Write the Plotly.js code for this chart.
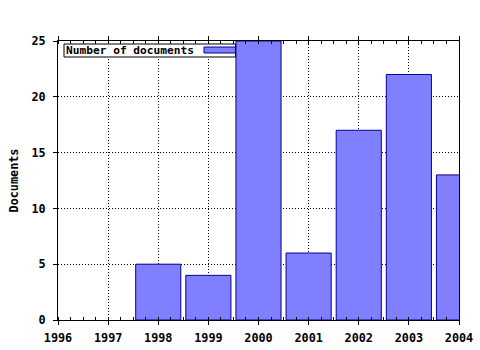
<!DOCTYPE html>
<html>
<head>
<meta charset="utf-8">
<script src="https://cdn.plot.ly/plotly-3.0.1.min.js"></script>
<style>html,body{margin:0;padding:0;background:#fff;}#chart{width:480px;height:350px;}</style>
</head>
<body>
<div id="chart"></div>
<script>
const years = [1998, 1999, 2000, 2001, 2002, 2003, 2004];
const documents = [5, 4, 25, 6, 17, 22, 13];
const xTickVals = [1996, 1997, 1998, 1999, 2000, 2001, 2002, 2003, 2004];
const yTickVals = [0, 5, 10, 15, 20, 25];
const seriesName = "Number of documents";
const yTitle = "Documents";

const FONT = "DejaVu Sans Mono";
const FS = 11.8;
const M = {l: 58, r: 21, t: 41, b: 30};
const PW = 480 - M.l - M.r, PH = 350 - M.t - M.b;
const px = x => (x - M.l) / PW;
const py = y => (350 - M.b - y) / PH;
const f = {family: FONT, size: FS, color: '#000', weight: 'bold'};
const fLeg = {family: FONT, size: 11.2, color: '#000', weight: 'bold'};

const trace = {
  type: 'bar', x: years, y: documents, name: seriesName, width: 0.9,
  marker: {color: '#8080ff', line: {color: '#000099', width: 1}},
  showlegend: false
};

const layout = {
  width: 480, height: 350,
  margin: M,
  paper_bgcolor: '#ffffff', plot_bgcolor: '#ffffff',
  font: f,
  xaxis: {
    range: [1996, 2004], tickvals: xTickVals, ticktext: xTickVals.map(String),
    showline: true, linecolor: '#000', linewidth: 1, mirror: 'ticks',
    ticks: 'outside', ticklen: 4, tickcolor: '#000',
    ticklabelstandoff: 3,
    showgrid: true, gridcolor: '#000', griddash: '1px,2px', gridwidth: 1,
    zeroline: false,
    tickfont: f,
    minor: {dtick: 0.25, tick0: 1996, ticks: 'inside', ticklen: 3, tickcolor: '#000', showgrid: false}
  },
  yaxis: {
    range: [0, 25], tickvals: yTickVals, ticktext: yTickVals.map(String),
    showline: true, linecolor: '#000', linewidth: 1, mirror: true,
    ticks: 'outside', ticklen: 4, tickcolor: '#000',
    ticklabelstandoff: 5,
    showgrid: true, gridcolor: '#000', griddash: '1px,2px', gridwidth: 1,
    zeroline: false,
    tickfont: f,
    title: {text: yTitle, font: f, standoff: 10}
  },
  shapes: [
    {type: 'rect', xref: 'paper', yref: 'paper', x0: px(64), x1: px(235.5), y0: py(57), y1: py(44),
     fillcolor: '#ffffff', line: {color: '#000', width: 1}, layer: 'above'},
    {type: 'rect', xref: 'paper', yref: 'paper', x0: px(204), x1: px(235.5), y0: py(53), y1: py(47),
     fillcolor: '#8080ff', line: {color: '#000099', width: 1}, layer: 'above'}
  ],
  annotations: [
    {xref: 'paper', yref: 'paper', x: px(64), y: py(50.5), xanchor: 'left', yanchor: 'middle',
     text: seriesName, showarrow: false, font: fLeg}
  ]
};

Plotly.newPlot('chart', [trace], layout, {displayModeBar: false, staticPlot: true});
</script>
</body>
</html>
